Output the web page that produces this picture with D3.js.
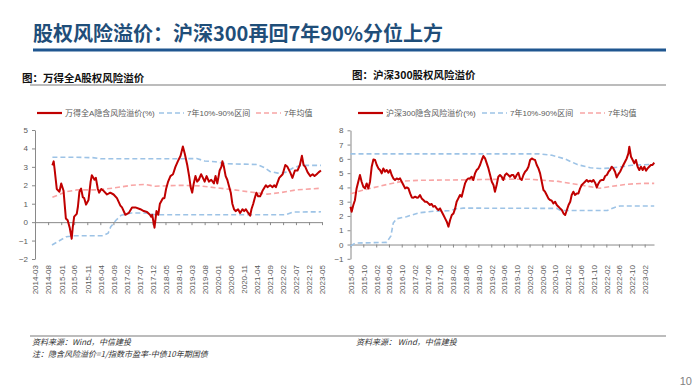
<!DOCTYPE html>
<html><head><meta charset="utf-8">
<script src="https://cdn.jsdelivr.net/npm/d3@7"></script>
<style>
body{margin:0;background:#fff;}
svg{display:block;}
text{font-family:"Liberation Sans","Noto Sans CJK SC",sans-serif;}
</style></head>
<body>
<svg id="c" width="700" height="391"></svg>
<script>
// ---------- DATA ----------
const titleText = "股权风险溢价：沪深300再回7年90%分位上方";
const leftSubtitle = "图：万得全A股权风险溢价";
const rightSubtitle = "图：沪深300股权风险溢价";
const leftLegend = ["万得全A隐含风险溢价(%)", "7年10%-90%区间", "7年均值"];
const rightLegend = ["沪深300隐含风险溢价(%)", "7年10%-90%区间", "7年均值"];
const sourceLeft = "资料来源：Wind，中信建投";
const noteLeft = "注：隐含风险溢价=1/指数市盈率-中债10年期国债";
const sourceRight = "资料来源： Wind，中信建投";
const pageNum = "10";

const leftYTicks = [-2,-1,0,1,2,3,4,5];
const rightYTicks = [-1,0,1,2,3,4,5,6,7,8];
const leftXTicks = ["2014-03","2014-08","2015-01","2015-06","2015-11","2016-04","2016-09","2017-02","2017-07","2017-12","2018-05","2018-10","2019-03","2019-08","2020-01","2020-06","2020-11","2021-04","2021-09","2022-02","2022-07","2022-12","2023-05"];
const rightXTicks = ["2015-06","2015-10","2016-02","2016-06","2016-10","2017-02","2017-06","2017-10","2018-02","2018-06","2018-10","2019-02","2019-06","2019-10","2020-02","2020-06","2020-10","2021-02","2021-06","2021-10","2022-02","2022-06","2022-10","2023-02"];

const leftERP = [["2014-09-20",3.08],["2014-10-05",3.3],["2014-10-15",2.9],["2014-11-10",1.8],["2014-12-11",1.65],["2015-01-01",2.1],["2015-01-28",1.7],["2015-02-24",0.2],["2015-03-17",0.1],["2015-04-10",-0.3],["2015-05-03",-0.9],["2015-05-15",-0.3],["2015-06-01",0.3],["2015-07-01",0.45],["2015-07-15",0.85],["2015-08-01",1.65],["2015-08-21",1.82],["2015-09-10",1.35],["2015-09-26",1.3],["2015-10-18",0.95],["2015-11-15",1.2],["2015-12-10",2.2],["2015-12-24",2.55],["2016-01-24",2.3],["2016-02-09",2.4],["2016-03-03",1.8],["2016-03-18",1.6],["2016-04-12",1.8],["2016-05-09",1.7],["2016-06-18",1.5],["2016-07-26",1.6],["2016-09-03",1.5],["2016-10-12",1.3],["2016-11-21",0.9],["2016-12-10",0.8],["2017-01-18",0.4],["2017-02-27",0.5],["2017-04-06",0.8],["2017-05-15",0.8],["2017-07-12",0.7],["2017-08-21",0.6],["2017-09-28",0.55],["2017-11-01",0.4],["2017-11-15",0.3],["2017-11-27",0.4],["2017-12-24",-0.3],["2018-01-16",0.6],["2018-02-06",0.4],["2018-02-25",1.0],["2018-04-01",1.3],["2018-04-19",1.3],["2018-05-08",1.8],["2018-06-01",2.2],["2018-06-28",2.5],["2018-07-28",2.6],["2018-08-25",3.0],["2018-09-22",3.3],["2018-10-24",3.6],["2018-11-20",4.1],["2018-12-13",3.7],["2019-01-10",3.1],["2019-02-01",2.5],["2019-02-19",1.9],["2019-03-09",1.6],["2019-03-27",2.1],["2019-04-16",2.5],["2019-05-06",2.2],["2019-05-25",2.3],["2019-06-21",2.6],["2019-07-12",2.4],["2019-08-01",2.2],["2019-08-24",2.5],["2019-09-20",2.2],["2019-10-17",2.3],["2019-11-17",2.1],["2019-12-06",2.5],["2019-12-27",2.1],["2020-01-23",2.8],["2020-02-12",3.0],["2020-02-24",3.3],["2020-03-13",3.0],["2020-04-02",2.5],["2020-04-21",2.3],["2020-06-01",1.6],["2020-06-19",1.0],["2020-07-09",0.7],["2020-07-28",0.6],["2020-08-25",0.7],["2020-09-18",0.5],["2020-10-15",0.7],["2020-11-04",0.6],["2020-11-24",0.7],["2020-12-21",0.5],["2021-01-13",0.35],["2021-01-28",0.7],["2021-02-18",1.0],["2021-03-07",1.3],["2021-03-27",1.6],["2021-04-16",1.4],["2021-05-09",1.4],["2021-06-06",1.7],["2021-07-15",2.0],["2021-08-03",1.9],["2021-09-03",2.0],["2021-10-01",1.9],["2021-10-21",2.0],["2021-11-09",1.9],["2021-12-18",2.4],["2022-01-27",2.6],["2022-02-27",3.1],["2022-03-24",3.0],["2022-04-25",2.7],["2022-05-21",2.4],["2022-06-19",2.8],["2022-07-19",2.8],["2022-08-16",3.1],["2022-09-09",3.6],["2022-09-28",3.1],["2022-10-18",3.0],["2022-11-15",2.7],["2022-12-16",2.5],["2023-01-12",2.6],["2023-02-03",2.5],["2023-02-28",2.6],["2023-03-22",2.7],["2023-04-19",2.8]];
const leftUpper = [["2014-09-20",3.52],["2015-06-01",3.52],["2016-01-01",3.5],["2016-04-01",3.44],["2018-10-01",3.44],["2019-05-01",3.45],["2019-08-01",3.32],["2019-12-01",3.28],["2020-04-01",3.17],["2021-04-01",3.13],["2021-07-01",2.95],["2021-09-01",2.75],["2021-12-01",2.66],["2022-03-01",2.7],["2022-06-01",2.95],["2022-09-01",3.08],["2023-04-19",3.08]];
const leftLower = [["2014-09-15",-1.24],["2015-03-01",-0.79],["2015-06-01",-0.74],["2016-05-01",-0.74],["2016-07-01",-0.6],["2016-08-01",-0.25],["2016-10-01",0.1],["2016-12-01",0.38],["2017-04-01",0.5],["2017-09-01",0.5],["2018-01-01",0.4],["2022-03-01",0.4],["2022-06-01",0.55],["2023-04-19",0.56]];
const leftMean = [["2014-09-20",1.35],["2015-03-01",1.65],["2015-07-01",1.75],["2016-03-01",1.75],["2016-09-01",1.85],["2017-04-01",2.0],["2017-09-01",2.05],["2018-01-01",1.95],["2018-11-01",2.0],["2019-06-01",1.97],["2019-12-01",1.87],["2020-07-01",1.76],["2021-01-01",1.64],["2021-08-01",1.52],["2022-01-01",1.6],["2022-07-01",1.75],["2023-04-19",1.84]];

const rightERP = [["2015-06-01",2.65],["2015-06-12",2.3],["2015-06-28",2.77],["2015-07-13",3.1],["2015-07-29",3.93],["2015-08-14",4.4],["2015-08-30",4.87],["2015-09-15",4.4],["2015-10-01",4.05],["2015-10-17",3.93],["2015-11-02",4.28],["2015-11-18",3.93],["2015-12-04",4.4],["2015-12-20",5.45],["2016-01-05",5.96],["2016-01-21",5.92],["2016-02-06",5.57],["2016-02-22",5.33],["2016-03-08",5.22],["2016-03-24",4.98],["2016-04-09",5.33],["2016-04-25",5.1],["2016-05-11",5.22],["2016-05-27",5.03],["2016-06-12",5.22],["2016-06-27",4.87],["2016-07-13",4.63],["2016-07-29",4.52],["2016-08-14",4.63],["2016-08-30",4.56],["2016-09-15",4.63],["2016-10-01",4.4],["2016-10-17",4.17],["2016-11-02",3.93],["2016-11-18",4.0],["2016-12-04",3.93],["2016-12-20",3.58],["2017-01-05",3.3],["2017-01-21",3.28],["2017-02-06",3.35],["2017-02-22",3.28],["2017-03-08",3.3],["2017-03-24",3.47],["2017-04-09",3.23],["2017-04-25",3.12],["2017-05-11",3.0],["2017-05-27",3.0],["2017-06-12",2.88],["2017-06-27",2.77],["2017-07-13",2.84],["2017-07-29",2.65],["2017-08-14",2.7],["2017-08-30",2.53],["2017-09-15",2.42],["2017-10-01",2.53],["2017-10-17",2.3],["2017-11-02",2.07],["2017-11-18",1.83],["2017-12-04",1.6],["2017-12-20",1.25],["2018-01-05",1.72],["2018-01-21",2.07],["2018-02-06",2.18],["2018-02-22",2.53],["2018-03-08",3.0],["2018-03-24",3.23],["2018-04-09",3.47],["2018-04-25",3.35],["2018-05-11",3.82],["2018-05-27",4.28],["2018-06-12",4.52],["2018-06-27",4.63],["2018-07-13",4.63],["2018-07-29",4.75],["2018-08-14",4.52],["2018-08-30",4.98],["2018-09-15",5.22],["2018-10-01",5.33],["2018-10-17",5.57],["2018-11-02",5.92],["2018-11-18",6.2],["2018-12-04",6.03],["2018-12-20",5.68],["2019-01-05",5.33],["2019-01-21",4.87],["2019-02-06",4.4],["2019-02-22",4.17],["2019-03-08",3.7],["2019-03-24",4.17],["2019-04-09",4.75],["2019-04-25",4.87],["2019-05-11",4.75],["2019-05-27",4.52],["2019-06-12",4.87],["2019-06-27",4.98],["2019-07-13",4.87],["2019-07-29",4.75],["2019-08-14",4.87],["2019-08-30",4.87],["2019-09-15",4.63],["2019-10-01",4.87],["2019-10-17",5.03],["2019-11-02",4.63],["2019-11-18",4.52],["2019-12-04",4.87],["2019-12-20",5.1],["2020-01-05",5.22],["2020-01-21",5.45],["2020-02-06",5.92],["2020-02-22",6.03],["2020-03-08",5.96],["2020-03-24",5.92],["2020-04-09",5.57],["2020-04-25",5.33],["2020-05-11",4.98],["2020-05-27",4.4],["2020-06-12",3.82],["2020-06-27",3.7],["2020-07-13",3.47],["2020-07-29",3.23],["2020-08-14",3.12],["2020-08-30",3.07],["2020-09-15",2.88],["2020-10-01",3.0],["2020-10-17",2.77],["2020-11-02",2.65],["2020-11-18",2.53],["2020-12-04",2.42],["2020-12-20",2.18],["2021-01-05",2.07],["2021-01-21",2.42],["2021-02-06",2.77],["2021-02-22",3.0],["2021-03-08",3.47],["2021-03-24",3.7],["2021-04-09",3.47],["2021-04-25",3.58],["2021-05-11",3.58],["2021-05-27",3.93],["2021-06-12",4.17],["2021-06-27",4.28],["2021-07-13",4.4],["2021-07-29",4.52],["2021-08-14",4.4],["2021-08-30",4.47],["2021-09-15",4.4],["2021-10-01",4.52],["2021-10-17",4.33],["2021-11-02",4.0],["2021-11-18",4.28],["2021-12-04",4.47],["2021-12-20",4.52],["2022-01-05",4.52],["2022-01-21",4.8],["2022-02-06",4.87],["2022-02-22",5.1],["2022-03-08",5.22],["2022-03-24",5.45],["2022-04-09",5.33],["2022-04-25",5.1],["2022-05-11",4.7],["2022-05-27",4.93],["2022-06-12",5.1],["2022-06-27",5.33],["2022-07-13",5.57],["2022-07-29",5.8],["2022-08-14",6.03],["2022-08-30",6.38],["2022-09-08",6.85],["2022-09-24",6.15],["2022-10-10",5.92],["2022-10-25",5.68],["2022-11-10",5.92],["2022-11-26",5.45],["2022-12-12",5.22],["2022-12-28",5.45],["2023-01-13",5.22],["2023-01-29",5.45],["2023-02-14",5.17],["2023-03-01",5.33],["2023-03-16",5.45],["2023-04-01",5.57],["2023-04-17",5.57],["2023-05-03",5.73]];
const rightUpper = [["2015-06-01",6.35],["2020-05-01",6.35],["2020-09-01",6.25],["2021-01-01",6.0],["2021-05-01",5.6],["2021-09-01",5.38],["2021-12-01",5.32],["2022-03-01",5.35],["2022-07-01",5.45],["2022-10-01",5.55],["2023-05-03",5.62]];
const rightLower = [["2015-06-01",-0.1],["2015-07-15",0.1],["2016-05-10",0.15],["2016-06-20",0.6],["2016-07-12",1.5],["2016-08-12",1.8],["2016-11-15",1.95],["2017-03-20",2.23],["2017-08-01",2.33],["2018-01-01",2.37],["2018-03-05",2.5],["2018-05-10",2.55],["2020-10-15",2.53],["2020-11-20",2.38],["2022-02-10",2.38],["2022-04-20",2.6],["2022-06-10",2.7],["2023-05-03",2.7]];
const rightMean = [["2015-06-01",3.55],["2015-09-25",3.8],["2016-05-10",4.2],["2016-10-15",4.44],["2017-04-01",4.5],["2018-06-01",4.53],["2019-06-01",4.58],["2020-02-01",4.57],["2020-11-01",4.42],["2021-06-15",4.15],["2021-12-01",3.94],["2022-03-01",4.05],["2022-08-15",4.22],["2023-01-01",4.28],["2023-05-03",4.28]];

// ---------- STYLE ----------
const C = {red:"#C00000", blue:"#9DC3E6", pink:"#F8A5A5", axis:"#898989", label:"#595959", title:"#1F4E79", rule:"#1F5690"};
const svg = d3.select("#c");
const pd = d3.timeParse("%Y-%m-%d");
const pm = d3.timeParse("%Y-%m");
const fm = d3.timeFormat("%Y-%m");

// Header
svg.append("text").attr("x",33).attr("y",41).attr("fill",C.title)
  .style("font-family","'Noto Sans CJK SC',sans-serif").style("font-weight","700").style("font-size","20px")
  .text(titleText);
svg.append("line").attr("x1",33).attr("x2",666).attr("y1",50).attr("y2",50).attr("stroke",C.rule).attr("stroke-width",3);
svg.append("text").attr("x",22).attr("y",82).attr("fill","#111")
  .style("font-family","'Noto Sans CJK SC',sans-serif").style("font-weight","700").style("font-size","10.5px").text(leftSubtitle);
svg.append("text").attr("x",352).attr("y",79).attr("fill","#111")
  .style("font-family","'Noto Sans CJK SC',sans-serif").style("font-weight","700").style("font-size","10.5px").text(rightSubtitle);
svg.append("line").attr("x1",30).attr("x2",666).attr("y1",85).attr("y2",85).attr("stroke","#A6A6A6").attr("stroke-width",1.5);
svg.append("line").attr("x1",30).attr("x2",666).attr("y1",336).attr("y2",336).attr("stroke","#A6A6A6").attr("stroke-width",1.5);

const foot = (x,y,t)=>svg.append("text").attr("x",x).attr("y",y).attr("fill","#333")
  .style("font-family","'Noto Sans CJK SC',sans-serif").style("font-style","italic").style("font-size","8px").text(t);
foot(32,345,sourceLeft);
foot(32,357,noteLeft);
foot(356,345,sourceRight);
svg.append("text").attr("x",692).attr("y",385).attr("text-anchor","end").attr("fill","#7F7F7F")
  .style("font-size","11px").text(pageNum);

// ---------- CHART FACTORY ----------
function drawChart(cfg){
  const x = d3.scaleTime().domain(cfg.xDomain.map(pm)).range(cfg.xRange);
  const y = d3.scaleLinear().domain(cfg.yDomain).range(cfg.yRange);
  const g = svg.append("g");
  const y0 = y(0);

  // y axis
  const ya = g.append("g").attr("transform",`translate(${cfg.xRange[0]},0)`)
    .call(d3.axisLeft(y).tickValues(cfg.yTicks).tickSize(3).tickSizeOuter(0).tickPadding(4).tickFormat(d3.format("d")));
  // x axis (at zero)
  const xa = g.append("g").attr("transform",`translate(0,${y0})`)
    .call(d3.axisBottom(x).tickValues(cfg.xTicks.map(pm)).tickSize(3).tickSizeOuter(0).tickFormat(fm));
  xa.selectAll("text").attr("x",0).attr("y",0).attr("dy","0.35em")
    .attr("text-anchor","end")
    .attr("transform",`translate(0,${cfg.labelTop - y0}) rotate(-90)`);
  [ya,xa].forEach(a=>{
    a.selectAll("path,line").attr("stroke",C.axis);
    a.selectAll("text").attr("fill",C.label).style("font-size","8px").style("font-family","'Liberation Sans',sans-serif");
  });

  const line = d3.line().x(d=>x(pd(d[0]))).y(d=>y(d[1]));
  const dash = "5,3";
  g.append("path").datum(cfg.mean).attr("d",line).attr("fill","none").attr("stroke",C.pink).attr("stroke-width",1.6).attr("stroke-dasharray",dash);
  g.append("path").datum(cfg.upper).attr("d",line).attr("fill","none").attr("stroke",C.blue).attr("stroke-width",1.6).attr("stroke-dasharray",dash);
  g.append("path").datum(cfg.lower).attr("d",line).attr("fill","none").attr("stroke",C.blue).attr("stroke-width",1.6).attr("stroke-dasharray",dash);
  g.append("path").datum(cfg.erp).attr("d",line).attr("fill","none").attr("stroke",C.red).attr("stroke-width",2).attr("stroke-linejoin","round");

  // legend
  const lg = g.append("g");
  const items = [
    {c:C.red, dash:null, w:2.2},
    {c:C.blue, dash:dash, w:1.6},
    {c:C.pink, dash:dash, w:1.6}
  ];
  items.forEach((it,i)=>{
    const lx = cfg.legendX[i];
    lg.append("line").attr("x1",lx).attr("x2",lx+25).attr("y1",cfg.legendY).attr("y2",cfg.legendY)
      .attr("stroke",it.c).attr("stroke-width",it.w).attr("stroke-dasharray",it.dash);
    lg.append("text").attr("x",lx+28).attr("y",cfg.legendY).attr("dy","0.35em").attr("fill",C.label)
      .style("font-size","8px").style("font-family","'Liberation Sans','Noto Sans CJK SC',sans-serif").text(cfg.legend[i]);
  });
}

drawChart({
  xDomain:["2014-03","2023-05"], xRange:[35,322],
  yDomain:[-2,5], yRange:[259,130], yTicks:leftYTicks, xTicks:leftXTicks,
  labelTop:265,
  erp:leftERP, upper:leftUpper, lower:leftLower, mean:leftMean,
  legend:leftLegend, legendX:[37,159,256], legendY:113
});
drawChart({
  xDomain:["2015-06","2023-05"], xRange:[350.5,654],
  yDomain:[-1,8], yRange:[258.8,130.3], yTicks:rightYTicks, xTicks:rightXTicks,
  labelTop:265,
  erp:rightERP, upper:rightUpper, lower:rightLower, mean:rightMean,
  legend:rightLegend, legendX:[358,482,580], legendY:113
});
</script>
</body></html>
